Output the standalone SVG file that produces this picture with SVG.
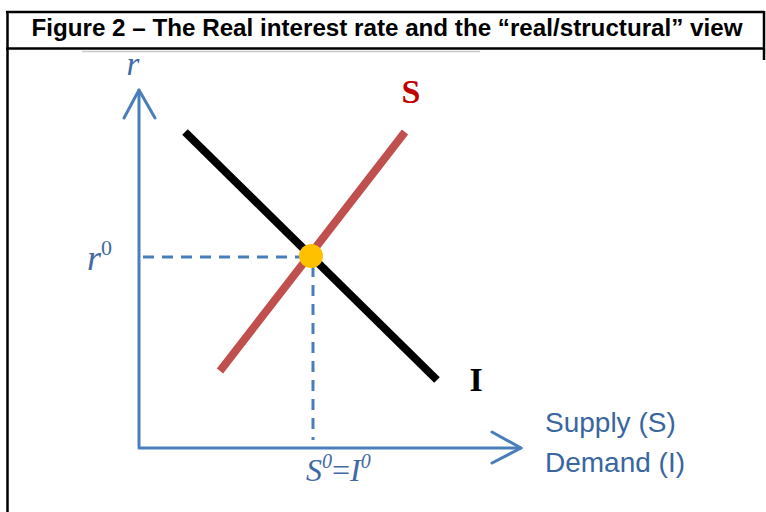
<svg xmlns="http://www.w3.org/2000/svg" width="766" height="512" viewBox="0 0 766 512">
<style>
.border{stroke:#000;stroke-width:2.5;fill:none}
.axis{stroke:#4a7ebb;stroke-width:3;fill:none;stroke-linecap:round;stroke-linejoin:round}
.dash{stroke:#4a7ebb;stroke-width:3;fill:none;stroke-dasharray:11,8}
.math{font-family:"Liberation Serif","DejaVu Serif",serif;font-style:italic;fill:#3f6aa3}
.lbl{font-family:"Liberation Sans","DejaVu Sans",sans-serif;fill:#3a66a0;font-size:28px}
.curve{fill:none;stroke-width:8;stroke-linecap:butt}
</style>
<rect width="766" height="512" fill="#fff"/>
<g id="frame">
<line class="border" x1="7.5" y1="12" x2="7.5" y2="512"/>
<line class="border" x1="6" y1="12" x2="764" y2="12"/>
<line class="border" x1="6" y1="48.5" x2="764" y2="48.5"/>
<line class="border" x1="764" y1="11" x2="764" y2="60"/>
<line x1="82" y1="51.5" x2="480" y2="51.5" stroke="#c8c8c8" stroke-width="1.5"/>
</g>
<g id="title">
<text x="387" y="36" text-anchor="middle" font-family="Liberation Sans, DejaVu Sans, sans-serif" font-weight="bold" font-size="23.5" textLength="711" lengthAdjust="spacingAndGlyphs" fill="#000">Figure 2 – The Real interest rate and the “real/structural” view</text>
</g>
<g id="connectors">
<g id="y-axis">
<path class="axis" d="M139,446 L139,90"/>
<path class="axis" d="M124,118 L139,90 L155,118"/>
</g>
<g id="x-axis">
<path class="axis" d="M139,448 L521,448"/>
<path class="axis" d="M492,432 L521,448 L492,463"/>
</g>
<path class="dash" d="M143,257 L305,257"/>
<path class="dash" d="M313,266 L313,440"/>
</g>
<g id="curve-I">
<line class="curve" stroke="#000" x1="185" y1="132" x2="437" y2="380"/>
<text x="476" y="391" text-anchor="middle" font-family="Liberation Serif, DejaVu Serif, serif" font-weight="bold" font-size="34" fill="#000">I</text>
</g>
<g id="curve-S">
<line class="curve" stroke="#c0504d" x1="405" y1="132" x2="220" y2="371"/>
<text x="411" y="103" text-anchor="middle" font-family="Liberation Serif, DejaVu Serif, serif" font-weight="bold" font-size="34" fill="#c00000">S</text>
</g>
<g id="equilibrium">
<circle cx="311" cy="256" r="12" fill="#ffc000"/>
</g>
<g id="labels">
<text class="math" x="133" y="75" text-anchor="middle" font-size="33">r</text>
<text class="math" x="87" y="270" font-size="36">r<tspan font-size="22" dy="-15" font-style="normal">0</tspan></text>
<text class="math" x="306" y="481" font-size="32">S<tspan font-size="20" dy="-13">0</tspan><tspan font-style="normal" dy="13">=</tspan>I<tspan font-size="20" dy="-13">0</tspan></text>
<text class="lbl" x="545" y="432">Supply (S)</text>
<text class="lbl" x="545" y="472">Demand (I)</text>
</g>
</svg>
